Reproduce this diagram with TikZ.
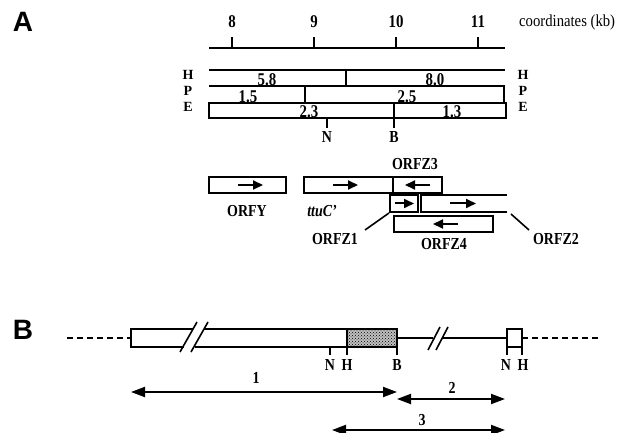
\documentclass[tikz,border=0pt]{standalone}
\usepackage{fontspec}
\usepackage{graphicx}
\setmainfont{Liberation Serif}
\newfontfamily\hv{Liberation Sans}
\newcommand{\stretchtxt}[1]{\scalebox{0.93}[1.12]{#1}}
\usetikzlibrary{arrows.meta,patterns}
\begin{document}
\begin{tikzpicture}[x=1pt,y=-1pt,
  lw/.style={line width=1.6pt},
  thk/.style={line width=2.4pt},
  lbl/.style={font=\bfseries\fontsize{15}{17}\selectfont, inner sep=0pt},
  sml/.style={font=\bfseries\fontsize{14}{16}\selectfont, inner sep=0pt},
  num/.style={font=\bfseries\fontsize{16}{18}\selectfont, inner sep=0pt},
  panel/.style={font=\hv\bfseries\fontsize{28}{30}\selectfont, inner sep=0pt},
  orfarrow/.style={line width=2pt, -{Triangle[length=10pt,width=9pt]}},
  dbl/.style={line width=2pt, {Triangle[length=14pt,width=10pt]}-{Triangle[length=14pt,width=10pt]}},
  dsh/.style={line width=1.8pt, dash pattern=on 6pt off 4pt},
]
\useasboundingbox (0,0) rectangle (622,433);

% ---------- panel A ----------
\node[panel] (pA) at (23,22) {A};

% scale
\coordinate (sl) at (209,48);
\coordinate (sr) at (505,48);
\draw[thk] (sl) -- (sr);
\foreach \x/\t in {232/8,314/9,396/10,478/11}{
  \coordinate (tk\t) at (\x,48);
  \draw[lw] (tk\t) -- (\x,37);
  \node[num, anchor=base] (tl\t) at (\x,28) {\stretchtxt{\t}};
}
\node[lbl, anchor=base west] (coord) at (519,27) {\scalebox{0.98}[1.12]{\mdseries coordinates (kb)}};

% restriction rows
\draw[lw] (209,70) -- (505,70);
\draw[lw] (346,70) -- (346,86);
\draw[lw] (209,86) -- (504,86) -- (504,103);
\draw[lw] (305,86) -- (305,103);
\draw[lw] (209,103) rectangle (506,118);
\draw[lw] (394,103) -- (394,128);
\draw[lw] (327,118) -- (327,128);

\node[num, anchor=base] (n58) at (267,86) {\stretchtxt{5.8}};
\node[num, anchor=base] (n80) at (435,86) {\stretchtxt{8.0}};
\node[num, anchor=base] (n15) at (248,103) {\stretchtxt{1.5}};
\node[num, anchor=base] (n25) at (407,103) {\stretchtxt{2.5}};
\node[num, anchor=base] (n23) at (309,118) {\stretchtxt{2.3}};
\node[num, anchor=base] (n13) at (452,118) {\stretchtxt{1.3}};

\node[sml, anchor=base] (hL) at (188,80) {H};
\node[sml, anchor=base] (pL) at (188,96) {P};
\node[sml, anchor=base] (eL) at (188,112) {E};
\node[sml, anchor=base] (hR) at (523,80) {H};
\node[sml, anchor=base] (pR) at (523,96) {P};
\node[sml, anchor=base] (eR) at (523,112) {E};
\node[lbl, anchor=base] (nA) at (327,143) {\stretchtxt{N}};
\node[lbl, anchor=base] (bA) at (394,143) {\stretchtxt{B}};

% ORFs
\draw[lw] (209,177) rectangle (286,193);
\draw[orfarrow] (238,185) -- (263,185);
\draw[lw] (304,177) rectangle (393,193);
\draw[orfarrow] (333,185) -- (358,185);
\draw[lw] (393,177) rectangle (442,193);
\draw[orfarrow] (430,185) -- (405,185);
\draw[lw] (390,195) rectangle (418,212);
\draw[orfarrow] (395,203.5) -- (414,203.5);
\draw[lw] (507,195) -- (421,195) -- (421,212) -- (507,212);
\draw[orfarrow] (450,203.5) -- (476,203.5);
\draw[lw] (394,216) rectangle (493,232);
\draw[orfarrow] (458,224) -- (433,224);

\node[lbl, anchor=base] (orfy) at (247,217) {\stretchtxt{ORFY}};
\node[lbl, anchor=base] (ttuc) at (322,217) {\stretchtxt{\itshape ttuC'}};
\node[lbl, anchor=base] (orfz3) at (415,170) {\stretchtxt{ORFZ3}};
\node[lbl, anchor=base] (orfz1) at (335,244) {\stretchtxt{ORFZ1}};
\node[lbl, anchor=base] (orfz4) at (444,250) {\stretchtxt{ORFZ4}};
\node[lbl, anchor=base] (orfz2) at (556,244) {\stretchtxt{ORFZ2}};
\coordinate (z1a) at (365,230);
\coordinate (z1b) at (389,213);
\coordinate (z2a) at (511,214);
\coordinate (z2b) at (529,230);
\draw[lw] (z1a) -- (z1b);
\draw[lw] (z2a) -- (z2b);

% ---------- panel B ----------
\node[panel] (pB) at (23,330) {B};

\draw[dsh] (67,338) -- (131,338);
\draw[dsh] (522,338) -- (600,338);
% main box with break
\draw[lw] (193,329) -- (131,329) -- (131,347) -- (184,347);
\draw[lw] (204,329) -- (397,329);
\draw[lw] (195,347) -- (397,347);
\fill[black!25] (347,329) rectangle (397,347);
\fill[pattern=crosshatch dots, pattern color=black] (347,329) rectangle (397,347);
\draw[lw] (347,329) rectangle (397,347);
\draw[lw] (180,352) -- (197,322);
\draw[lw] (191,352) -- (208,322);
% line to small box with break
\draw[lw] (397,338) -- (433,338);
\draw[lw] (443,338) -- (507,338);
\draw[lw] (428,350) -- (440,327);
\draw[lw] (436,350) -- (448,327);
\draw[lw] (507,329) rectangle (522,347);
% ticks
\foreach \x in {330,347,397,507,522}{\draw[lw] (\x,347) -- (\x,355);}
\node[lbl, anchor=base] (nB1) at (330,370) {\stretchtxt{N}};
\node[lbl, anchor=base] (hB1) at (347,370) {\stretchtxt{H}};
\node[lbl, anchor=base] (bB1) at (397,370) {\stretchtxt{B}};
\node[lbl, anchor=base] (nB2) at (506,370) {\stretchtxt{N}};
\node[lbl, anchor=base] (hB2) at (523,370) {\stretchtxt{H}};

% fragments
\coordinate (a1l) at (131,392);
\coordinate (a1r) at (397,392);
\coordinate (a2l) at (397,399);
\coordinate (a2r) at (505,399);
\coordinate (a3l) at (332,430);
\coordinate (a3r) at (505,430);
\draw[dbl] (a1l) -- (a1r);
\draw[dbl] (a2l) -- (a2r);
\draw[dbl] (a3l) -- (a3r);
\node[lbl, anchor=base] (f1) at (256,383) {\stretchtxt{1}};
\node[lbl, anchor=base] (f2) at (452,393) {\stretchtxt{2}};
\node[lbl, anchor=base] (f3) at (422,425) {\stretchtxt{3}};
\end{tikzpicture}
\end{document}
